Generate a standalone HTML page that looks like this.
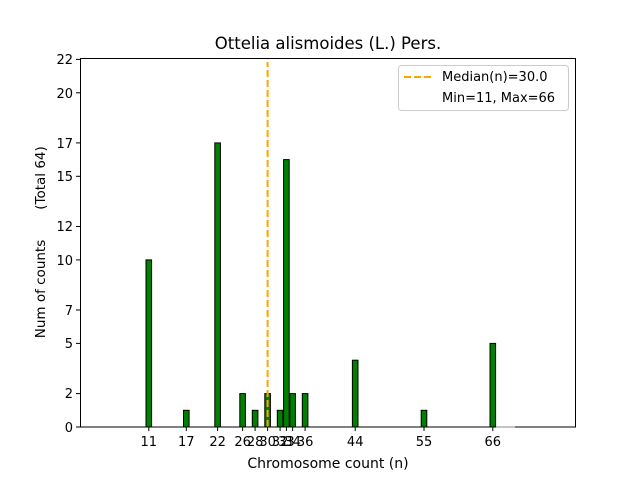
<!DOCTYPE html>
<html><head><style>body{margin:0;background:#fff}</style></head><body>
<svg width="640" height="480" xmlns="http://www.w3.org/2000/svg" font-family="DejaVu Sans, Liberation Sans, sans-serif">
<rect width="640" height="480" fill="#fff"/>
<g fill="green" stroke="#000" stroke-width="1">
<rect x="146" y="259.9" width="5.6" height="167.1"/>
<rect x="183.5" y="410.3" width="5.6" height="16.7"/>
<rect x="214.8" y="142.9" width="5.6" height="284.1"/>
<rect x="239.8" y="393.6" width="5.6" height="33.4"/>
<rect x="252.3" y="410.3" width="5.6" height="16.7"/>
<rect x="264.8" y="393.6" width="5.6" height="33.4"/>
<rect x="277.3" y="410.3" width="5.6" height="16.7"/>
<rect x="283.6" y="159.6" width="5.6" height="267.4"/>
<rect x="289.8" y="393.6" width="5.6" height="33.4"/>
<rect x="302.3" y="393.6" width="5.6" height="33.4"/>
<rect x="352.4" y="360.2" width="5.6" height="66.8"/>
<rect x="421.2" y="410.3" width="5.6" height="16.7"/>
<rect x="490" y="343.4" width="5.6" height="83.6"/>
</g>
<line x1="267.6" y1="427" x2="267.6" y2="62" stroke="orange" stroke-width="2" stroke-dasharray="7,3"/>
<rect x="80.5" y="58.5" width="495" height="368.5" fill="none" stroke="#000" stroke-width="1"/>
<line x1="496" y1="427" x2="515" y2="427" stroke="#888" stroke-width="1"/>
<g stroke="#000">
<line x1="148.8" y1="427" x2="148.8" y2="431"/><line x1="186.3" y1="427" x2="186.3" y2="431"/>
<line x1="217.6" y1="427" x2="217.6" y2="431"/><line x1="242.6" y1="427" x2="242.6" y2="431"/>
<line x1="255.1" y1="427" x2="255.1" y2="431"/><line x1="267.6" y1="427" x2="267.6" y2="431"/>
<line x1="280.1" y1="427" x2="280.1" y2="431"/><line x1="286.4" y1="427" x2="286.4" y2="431"/>
<line x1="292.6" y1="427" x2="292.6" y2="431"/><line x1="305.1" y1="427" x2="305.1" y2="431"/>
<line x1="355.2" y1="427" x2="355.2" y2="431"/><line x1="424" y1="427" x2="424" y2="431"/>
<line x1="492.8" y1="427" x2="492.8" y2="431"/>
<line x1="80" y1="427" x2="76" y2="427"/><line x1="80" y1="393.6" x2="76" y2="393.6"/>
<line x1="80" y1="343.4" x2="76" y2="343.4"/><line x1="80" y1="310" x2="76" y2="310"/>
<line x1="80" y1="259.9" x2="76" y2="259.9"/><line x1="80" y1="226.5" x2="76" y2="226.5"/>
<line x1="80" y1="176.3" x2="76" y2="176.3"/><line x1="80" y1="142.9" x2="76" y2="142.9"/>
<line x1="80" y1="92.8" x2="76" y2="92.8"/><line x1="80" y1="59.4" x2="76" y2="59.4"/>
</g>
<g font-size="13" text-anchor="middle" fill="#000">
<text x="148.8" y="446">11</text><text x="186.3" y="446">17</text><text x="217.6" y="446">22</text>
<text x="242.6" y="446">26</text><text x="255.1" y="446">28</text><text x="267.6" y="446">30</text>
<text x="280.1" y="446">32</text><text x="286.4" y="446">33</text><text x="292.6" y="446">34</text>
<text x="305.1" y="446">36</text><text x="355.2" y="446">44</text><text x="424" y="446">55</text>
<text x="492.8" y="446">66</text>
<text x="328" y="468" font-size="14">Chromosome count (n)</text>
</g>
<g font-size="13" text-anchor="end" fill="#000">
<text x="73" y="432">0</text><text x="73" y="398">2</text><text x="73" y="348">5</text>
<text x="73" y="315">7</text><text x="73" y="265">10</text><text x="73" y="231">12</text>
<text x="73" y="181">15</text><text x="73" y="148">17</text><text x="73" y="98">20</text>
<text x="73" y="64">22</text>
</g>
<text transform="translate(45,289) rotate(-90)" font-size="13.5" text-anchor="middle">Num of counts</text>
<text transform="translate(45,178) rotate(-90)" font-size="13.5" text-anchor="middle">(Total 64)</text>
<text x="328" y="49" font-size="16.5" text-anchor="middle">Ottelia alismoides (L.) Pers.</text>
<rect x="398.5" y="65.5" width="170" height="45" rx="3" fill="#fff" stroke="#ccc"/>
<line x1="404" y1="77" x2="432" y2="77" stroke="orange" stroke-width="2" stroke-dasharray="7,3"/>
<text x="442" y="81" font-size="13">Median(n)=30.0</text>
<text x="442" y="102" font-size="13">Min=11, Max=66</text>
</svg>
</body></html>
